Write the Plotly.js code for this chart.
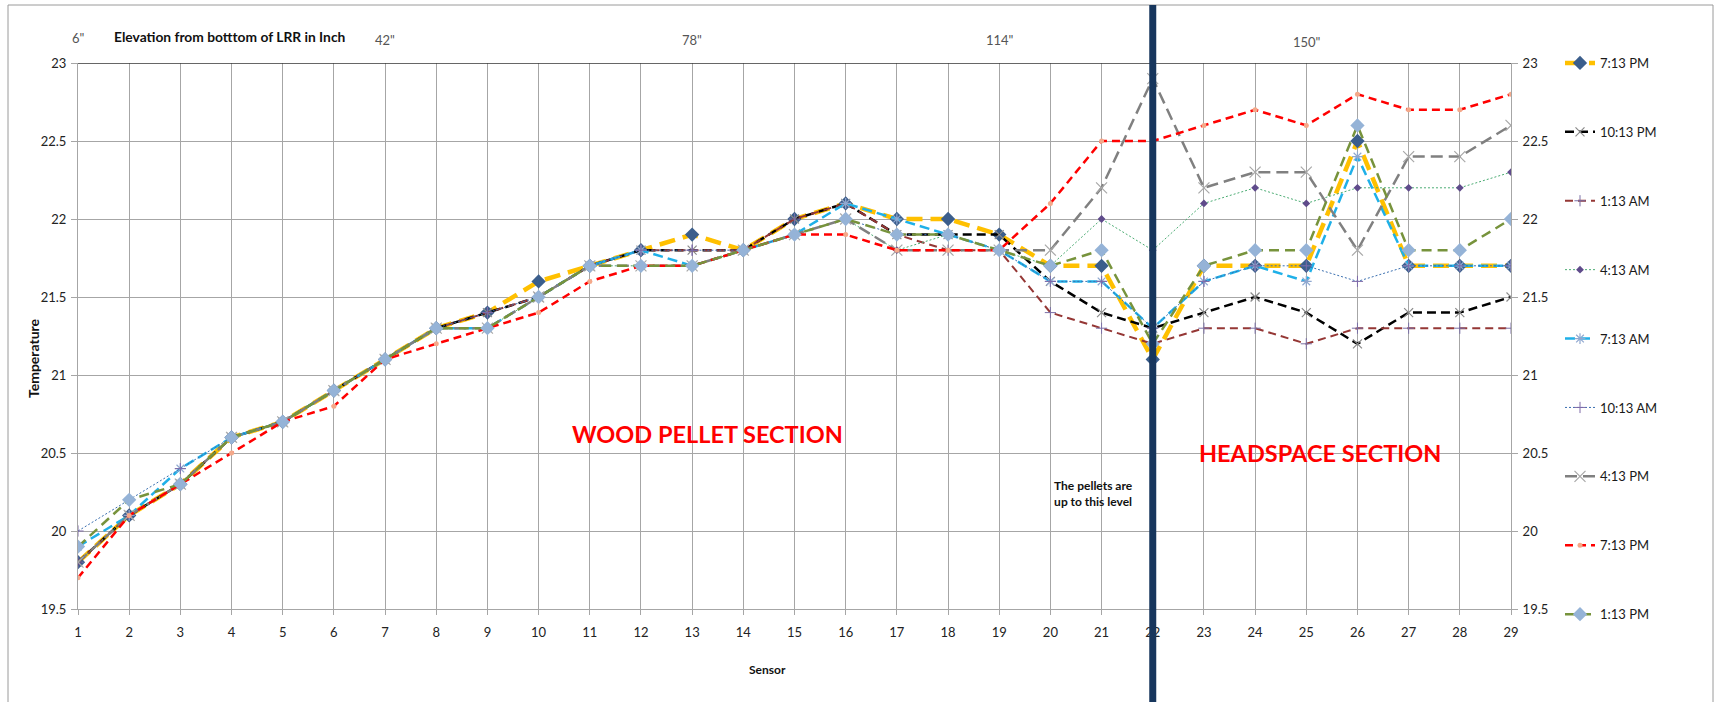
<!DOCTYPE html>
<html>
<head>
<meta charset="utf-8">
<script src="https://cdn.plot.ly/plotly-3.0.1.min.js"></script>
<style>
  html, body { margin: 0; padding: 0; background: #fff; }
  #chart { width: 1714px; height: 702px; }
</style>
</head>
<body>
<div id="chart"></div>
<script>
// ---- data ----
const sensors = [1,2,3,4,5,6,7,8,9,10,11,12,13,14,15,16,17,18,19,20,21,22,23,24,25,26,27,28,29];

const pm713a = [19.8,20.1,20.3,20.6,20.7,20.9,21.1,21.3,21.4,21.6,21.7,21.8,21.9,21.8,22.0,22.1,22.0,22.0,21.9,21.7,21.7,21.1,21.7,21.7,21.7,22.5,21.7,21.7,21.7];
const pm1013 = [19.8,20.1,20.3,20.6,20.7,20.9,21.1,21.3,21.4,21.5,21.7,21.8,21.8,21.8,22.0,22.1,21.9,21.9,21.9,21.6,21.4,21.3,21.4,21.5,21.4,21.2,21.4,21.4,21.5];
const am113  = [19.8,20.1,20.3,20.6,20.7,20.9,21.1,21.3,21.4,21.5,21.7,21.8,21.8,21.8,22.0,22.1,21.9,21.8,21.8,21.4,21.3,21.2,21.3,21.3,21.2,21.3,21.3,21.3,21.3];
const am413  = [19.8,20.1,20.3,20.6,20.7,20.9,21.1,21.3,21.3,21.5,21.7,21.7,21.7,21.8,21.9,22.0,21.8,21.9,21.8,21.7,22.0,21.8,22.1,22.2,22.1,22.2,22.2,22.2,22.3];
const am713  = [19.9,20.1,20.4,20.6,20.7,20.9,21.1,21.3,21.3,21.5,21.7,21.8,21.7,21.8,21.9,22.1,22.0,21.9,21.8,21.6,21.6,21.3,21.6,21.7,21.6,22.4,21.7,21.7,21.7];
const am1013 = [20.0,20.2,20.4,20.6,20.7,20.9,21.1,21.3,21.4,21.5,21.7,21.8,21.8,21.8,21.9,22.0,21.9,21.9,21.8,21.6,21.6,21.3,21.6,21.7,21.7,21.6,21.7,21.7,21.7];
const pm413  = [19.8,20.1,20.3,20.6,20.7,20.9,21.1,21.3,21.3,21.5,21.7,21.7,21.7,21.8,21.9,22.0,21.8,21.8,21.8,21.8,22.2,22.9,22.2,22.3,22.3,21.8,22.4,22.4,22.6];
const pm713b = [19.7,20.1,20.3,20.5,20.7,20.8,21.1,21.2,21.3,21.4,21.6,21.7,21.7,21.8,21.9,21.9,21.8,21.8,21.8,22.1,22.5,22.5,22.6,22.7,22.6,22.8,22.7,22.7,22.8];
const pm113  = [19.9,20.2,20.3,20.6,20.7,20.9,21.1,21.3,21.3,21.5,21.7,21.7,21.7,21.8,21.9,22.0,21.9,21.9,21.8,21.7,21.8,21.2,21.7,21.8,21.8,22.6,21.8,21.8,22.0];

const seriesNames = ['7:13 PM','10:13 PM','1:13 AM','4:13 AM','7:13 AM','10:13 AM','4:13 PM','7:13 PM','1:13 PM'];

const elevSensors = [1, 7, 13, 19, 25];
const elevLabels  = ['6"', '42"', '78"', '114"', '150"'];
const pelletLevelSensor = 22;

// ---- styles ----
const FONT = 'Lato, "Open Sans", sans-serif';
const styles = [
  {line:{color:'#FFC000', width:4.5, dash:'16px,8px'}, marker:{symbol:'diamond', size:11, color:'#3B5E8C'}},
  {line:{color:'#000000', width:2.5, dash:'9px,5px'},  marker:{symbol:'x-thin', size:9, color:'#8a8a8a', line:{color:'#8a8a8a', width:1.2}}},
  {line:{color:'#953735', width:2,   dash:'8px,5px'},  marker:{symbol:'cross-thin', size:8, color:'#7a6fa6', line:{color:'#7a6fa6', width:1}}},
  {line:{color:'#4BAC73', width:1,   dash:'2px,2px'},  marker:{symbol:'diamond', size:6, color:'#5f4b8b'}},
  {line:{color:'#1FB0E8', width:2.5, dash:'10px,5px'}, marker:{symbol:'asterisk', size:9, color:'#8fa8d0', line:{color:'#8fa8d0', width:1.2}}},
  {line:{color:'#3A6FB0', width:1,   dash:'2px,2px'},  marker:{symbol:'cross-thin', size:8, color:'#7e6aa8', line:{color:'#7e6aa8', width:1}}},
  {line:{color:'#808080', width:2.5, dash:'12px,6px'}, marker:{symbol:'x-thin', size:11, color:'#a8a8a8', line:{color:'#a8a8a8', width:1.2}}},
  {line:{color:'#FF0000', width:2.5, dash:'8px,5px'},  marker:{symbol:'circle', size:5, color:'#F4A98A'}},
  {line:{color:'#77933C', width:2.5, dash:'10px,6px'}, marker:{symbol:'diamond', size:11, color:'#95B3D7'}}
];
const allSeries = [pm713a, pm1013, am113, am413, am713, am1013, pm413, pm713b, pm113];

const traces = allSeries.map((vals, i) => ({
  type: 'scatter', mode: 'lines+markers',
  x: sensors, y: vals, name: seriesNames[i],
  legendgroup: 'g' + i,
  line: styles[i].line, marker: styles[i].marker,
  hoverinfo: 'x+y+name'
}));
// invisible trace so the right-hand axis is drawn
traces.push({type:'scatter', mode:'lines', x: sensors, y: pm713b, yaxis:'y2',
  showlegend:false, hoverinfo:'skip', opacity:0, line:{width:0}});

// ---- layout geometry ----
const W = 1714, H = 702, ML = 78, MR = 203, MT = 63, MB = 93;
const PW = W - ML - MR, PH = H - MT - MB;
const px2x = p => (p - ML) / PW;
const px2y = p => (H - MB - p) / PH;

const annotations = elevSensors.map((s, i) => ({
  x: s, xref: 'x', y: px2y(38 + (i === 4 ? 4 : (i === 0 ? 0 : 2))), yref: 'paper',
  text: elevLabels[i], showarrow: false, xanchor: 'center', yanchor: 'middle',
  font: {family: FONT, size: 13, color: '#555'}
}));
annotations.push(
  {x: px2x(112), xref:'paper', y: px2y(37), yref:'paper', xanchor:'left', yanchor:'middle',
   text:'<b>Elevation from botttom of LRR in Inch</b>', showarrow:false,
   font:{family:FONT, size:13.8, color:'#111'}},
  {x: 13.3, xref:'x', y: 20.62, yref:'y', text:'<b>WOOD PELLET SECTION</b>', showarrow:false,
   font:{family:FONT, size:23.5, color:'#FF0000'}},
  {x: 25.26, xref:'x', y: 20.5, yref:'y', text:'<b>HEADSPACE SECTION</b>', showarrow:false,
   font:{family:FONT, size:23.5, color:'#FF0000'}},
  {x: 20.85, xref:'x', y: 20.24, yref:'y', text:'<b>The pellets are<br>up to this level</b>', showarrow:false,
   align:'center', font:{family:FONT, size:12, color:'#111'}},
  // axis titles
  {x: px2x(767), xref:'paper', y: px2y(669), yref:'paper', text:'<b>Sensor</b>', showarrow:false,
   xanchor:'center', yanchor:'middle', font:{family:FONT, size:12, color:'#111'}},
  {x: px2x(33), xref:'paper', y: px2y(358), yref:'paper', text:'<b>Temperature</b>', showarrow:false,
   textangle:-90, xanchor:'center', yanchor:'middle', font:{family:FONT, size:14, color:'#111'}}
);

const shapes = [
  // chart area border
  {type:'rect', xref:'paper', yref:'paper', x0:px2x(8), x1:px2x(1713), y0:px2y(720), y1:px2y(5),
   line:{color:'#9a9a9a', width:1}, fillcolor:'rgba(0,0,0,0)', layer:'below'},
  // dark top border of plot area
  {type:'line', xref:'paper', yref:'y', x0:0, x1:1, y0:23, y1:23, line:{color:'#333', width:1.3}},
  // pellet level marker line
  {type:'line', xref:'x', yref:'paper', x0:pelletLevelSensor, x1:pelletLevelSensor,
   y0:px2y(720), y1:px2y(5), line:{color:'#17365D', width:7}}
];

const layout = {
  width: W, height: H, autosize: false,
  margin: {l: ML, r: MR, t: MT, b: MB, pad: 0},
  paper_bgcolor: '#fff', plot_bgcolor: '#fff',
  font: {family: FONT, size: 13, color: '#222'},
  showlegend: true,
  legend: {x: px2x(1560), xanchor: 'left', y: px2y(48), yanchor: 'top', maxheight: 680,
           tracegroupgap: 49, font: {family: FONT, size: 13, color: '#1a1a1a'},
           bgcolor: 'rgba(0,0,0,0)', borderwidth: 0},
  xaxis: {range: [1, 29], tick0: 1, dtick: 1, showgrid: true, gridcolor: '#a6a6a6', gridwidth: 1,
          zeroline: false, showline: true, linecolor: '#a6a6a6', ticks: 'outside', ticklen: 5,
          tickcolor: '#a6a6a6', ticklabelstandoff: 6, tickfont: {family: FONT, size: 13, color: '#222'}},
  yaxis: {range: [19.5, 23], tick0: 19.5, dtick: 0.5, showgrid: true, gridcolor: '#a6a6a6', gridwidth: 1,
          zeroline: false, showline: true, linecolor: '#a6a6a6', ticks: 'outside', ticklen: 6,
          tickcolor: '#a6a6a6', ticklabelstandoff: 2, tickfont: {family: FONT, size: 13, color: '#222'}},
  yaxis2: {range: [19.5, 23], tick0: 19.5, dtick: 0.5, overlaying: 'y', side: 'right', showgrid: false,
           zeroline: false, showline: true, linecolor: '#a6a6a6', ticks: 'outside', ticklen: 6,
           tickcolor: '#a6a6a6', ticklabelstandoff: 2, tickfont: {family: FONT, size: 13, color: '#222'}},
  annotations: annotations,
  shapes: shapes
};

Plotly.newPlot('chart', traces, layout, {displayModeBar: false, staticPlot: true});
</script>
</body>
</html>
